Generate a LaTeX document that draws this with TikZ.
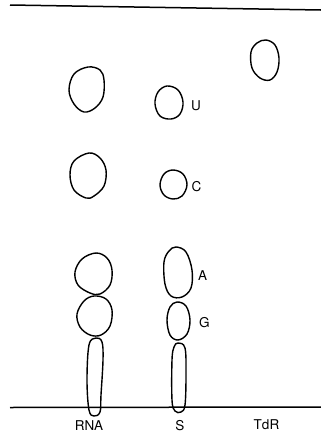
\documentclass[tikz,border=0pt]{standalone}
\usepackage{fontspec}
\setmainfont{TeX Gyre Heros}
\begin{document}
\begin{tikzpicture}[x=1pt,y=-1pt,
  spot/.style={draw=black,line width=1.4pt,smooth cycle,tension=0.6},
  baseline/.style={draw=black,line width=1.5pt},
  lbl/.style={font=\fontsize{13.5}{13.5}\selectfont,inner sep=0pt}]
\useasboundingbox (0,0) rectangle (321,432);
% solvent front and origin
\draw[baseline] (10,5) -- (321,10);
\draw[baseline] (10,407.5) -- (321,407);
% RNA hydrolysate lane
\draw[spot] plot coordinates {(88,67) (100,70) (104,80) (103,97) (95,108) (84,112) (74,104) (69,90) (74,74)};
\draw[spot] plot coordinates {(89,153) (100,158) (106,170) (104,186) (94,196) (86,198) (74,190) (70,175) (74,161)};
\draw[spot] plot coordinates {(96,253) (107,258) (112,270) (110,285) (100,294) (90,293) (78,285) (75,272) (82,259)};
\draw[spot] plot coordinates {(94,296) (106,299) (112,310) (110,326) (101,335) (90,335) (80,327) (77,314) (84,301)};
\draw[spot] plot coordinates {(96,338) (102,342) (103,360) (101,395) (100,412) (94,416) (89,410) (87,380) (89,345)};
% standards lane
\draw[spot] plot coordinates {(167,86) (178,90) (183,102) (180,114) (171,119) (160,116) (155,104) (158,92)};
\draw[spot] plot coordinates {(173,170) (183,174) (187,185) (182,196) (173,199) (164,195) (160,185) (164,174)};
\draw[spot] plot coordinates {(176,247) (186,252) (192,270) (191,288) (182,297) (171,296) (165,284) (164,262) (169,251)};
\draw[spot] plot coordinates {(177,302) (186,306) (190,320) (187,334) (178,340) (170,335) (167,320) (170,307)};
\draw[spot] plot coordinates {(178,343) (185,348) (186,375) (185,405) (181,412) (175,411) (172,400) (172,360) (174,347)};
% thymidine lane
\draw[spot] plot coordinates {(266,40) (275,45) (279,58) (277,72) (270,80) (260,78) (252,68) (251,52) (257,43)};
% spot labels
\node[lbl,anchor=west] (u) at (191,106) {U};
\node[lbl,anchor=west] (c) at (191.5,186.5) {C};
\node[lbl,anchor=west] (a) at (198,276) {A};
\node[lbl,anchor=west] (g) at (199,323) {G};
% lane labels
\node[lbl] (rna) at (89,425.5) {RNA};
\node[lbl] (s) at (180,425.5) {S};
\node[lbl] (tdr) at (266.5,425) {TdR};
\end{tikzpicture}
\end{document}
